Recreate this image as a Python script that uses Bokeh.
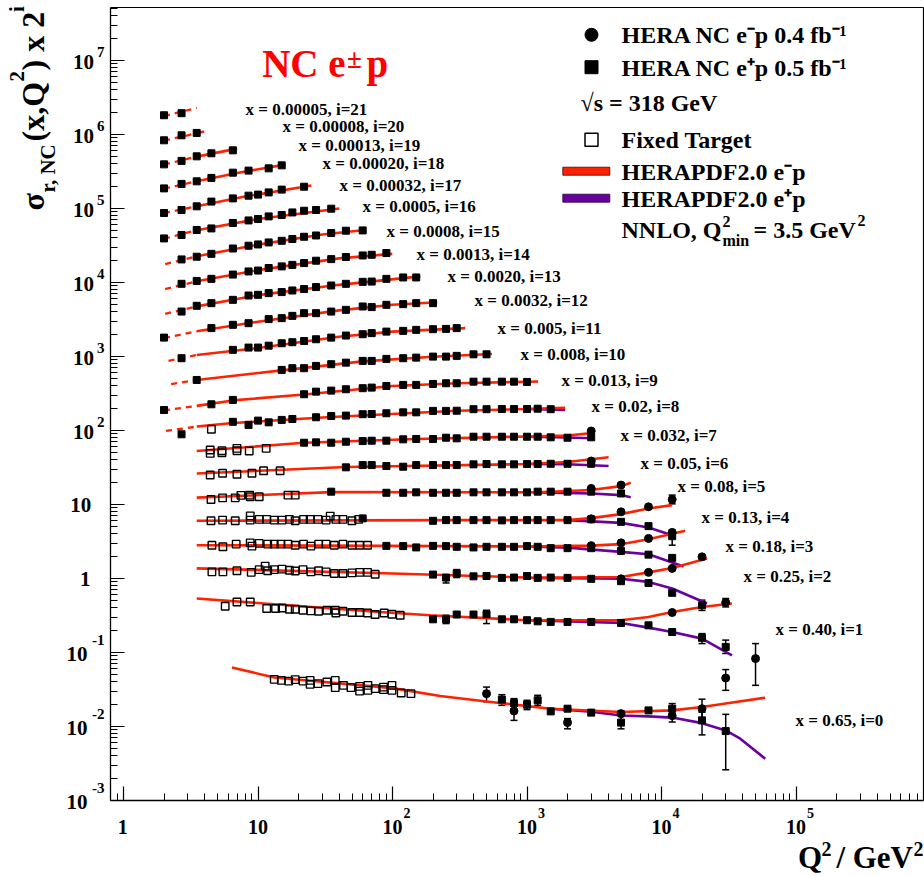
import math
from bokeh.plotting import figure
from bokeh.models import (Range1d, FixedTicker, Label, ColumnDataSource, Whisker,
                          TeeHead, CustomJSTickFormatter, LogAxis)
from bokeh.embed import file_html
from bokeh.resources import INLINE

# ------------------------------------------------------------------ data
BIN_X = ["0.65", "0.40", "0.25", "0.18", "0.13", "0.08", "0.05", "0.032", "0.02", "0.013",
         "0.008", "0.005", "0.0032", "0.0020", "0.0013", "0.0008", "0.0005", "0.00032",
         "0.00020", "0.00013", "0.00008", "0.00005"]
Q2_MIN = 3.5
YTICK_EXP = list(range(-3, 8))
XTICK_EXP = list(range(0, 6))

# HERA NC e+p (filled squares): Q2 and sigma_r x 2^i
SQ_Q2 = {
    21: [2, 2.7],
    20: [2, 2.7, 3.5],
    19: [2, 2.7, 3.5, 4.5, 6.5],
    18: [2, 2.7, 3.5, 4.5, 6.5, 8.5, 12, 15],
    17: [2, 2.7, 3.5, 4.5, 6.5, 8.5, 10, 12, 15, 22],
    16: [2, 2.7, 3.5, 4.5, 6.5, 8.5, 10, 12, 15, 18, 22, 27, 35],
    15: [2.7, 3.5, 4.5, 6.5, 8.5, 10, 12, 15, 18, 22, 27, 35, 45, 60],
    14: [2.7, 3.5, 4.5, 6.5, 8.5, 10, 12, 15, 18, 22, 27, 35, 45, 60, 70, 90],
    13: [2.7, 3.5, 4.5, 6.5, 8.5, 10, 12, 15, 18, 22, 27, 35, 45, 60, 70, 90, 120, 150],
    12: [2, 4.5, 6.5, 8.5, 12, 15, 18, 22, 27, 35, 45, 60, 70, 90, 120, 150, 200],
    11: [2.7, 6.5, 8.5, 10, 12, 15, 18, 22, 27, 35, 45, 60, 70, 90, 120, 150, 200, 250, 300],
    10: [3.5, 15, 18, 22, 27, 35, 45, 60, 70, 90, 120, 150, 200, 250, 300, 400, 500],
    9: [2, 4.5, 6.5, 22, 27, 35, 45, 60, 70, 90, 120, 150, 200, 250, 300, 400, 500, 650, 800, 1000],
    8: [2.7, 6.5, 8.5, 10, 12, 15, 18, 27, 35, 45, 60, 70, 90, 120, 150, 200, 250, 300, 400, 500,
        650, 800, 1000, 1200, 1500],
    7: [22, 27, 35, 45, 60, 70, 90, 120, 150, 200, 250, 300, 400, 500, 650, 800, 1000, 1200, 1500,
        2000, 3000],
    6: [45, 60, 70, 90, 120, 150, 200, 250, 300, 400, 500, 650, 800, 1000, 1200, 1500, 2000, 3000],
    5: [35, 90, 120, 150, 200, 250, 300, 400, 500, 650, 800, 1000, 1200, 1500, 2000, 3000, 5000],
    4: [60, 200, 250, 300, 400, 500, 650, 800, 1000, 1200, 1500, 2000, 3000, 5000, 8000, 12000],
    3: [90, 120, 150, 200, 250, 300, 400, 500, 650, 800, 1000, 1200, 1500, 2000, 3000, 5000, 8000,
        12000],
    2: [200, 250, 300, 400, 500, 650, 800, 1000, 1200, 1500, 2000, 3000, 5000, 8000, 12000, 20000],
    1: [200, 250, 300, 400, 500, 650, 800, 1000, 1200, 1500, 2000, 3000, 5000, 8000, 12000, 20000,
        30000],
    0: [650, 800, 1000, 1200, 1500, 2000, 3000, 5000, 8000, 12000, 20000, 30000],
}
SQ_SIG = {
    21: [1.82e6, 1.94e6],
    20: [8.35e5, 9.75e5, 1.05e6],
    19: [3.95e5, 4.40e5, 5.07e5, 5.57e5, 6.11e5],
    18: [1.87e5, 2.15e5, 2.33e5, 2.59e5, 3.05e5, 3.25e5, 3.49e5, 3.83e5],
    17: [8.69e4, 9.55e4, 1.07e5, 1.24e5, 1.37e5, 1.49e5, 1.54e5, 1.65e5, 1.80e5, 1.97e5],
    16: [3.94e4, 4.38e4, 5.12e4, 5.38e4, 6.37e4, 6.90e4, 7.21e4, 7.82e4, 8.17e4, 8.85e4, 9.33e4,
         9.55e4, 9.94e4],
    15: [2.05e4, 2.23e4, 2.44e4, 2.88e4, 3.14e4, 3.27e4, 3.48e4, 3.66e4, 3.87e4, 4.15e4, 4.32e4,
         4.66e4, 5.01e4, 5.06e4],
    14: [9.60e3, 1.05e4, 1.12e4, 1.28e4, 1.41e4, 1.45e4, 1.57e4, 1.65e4, 1.73e4, 1.83e4, 1.97e4,
         2.07e4, 2.21e4, 2.32e4, 2.37e4, 2.50e4],
    13: [4.05e3, 4.84e3, 5.26e3, 5.83e3, 6.67e3, 6.82e3, 7.19e3, 7.42e3, 7.80e3, 8.15e3, 8.67e3,
         9.11e3, 9.60e3, 1.02e4, 1.03e4, 1.12e4, 1.17e4, 1.17e4],
    12: [1.80e3, 2.42e3, 2.68e3, 2.82e3, 3.20e3, 3.30e3, 3.54e3, 3.85e3, 3.85e3, 4.05e3, 4.27e3,
         4.74e3, 4.65e3, 4.99e3, 5.10e3, 5.26e3, 5.26e3],
    11: [948, 1230, 1320, 1320, 1400, 1510, 1560, 1620, 1710, 1800, 1920, 2000, 2070, 2170, 2220,
         2290, 2340, 2360, 2420],
    10: [482, 659, 695, 695, 746, 787, 826, 872, 872, 928, 948, 966, 997, 997, 1020, 1070, 1070],
    9: [189, 226, 259, 309, 335, 346, 361, 373, 380, 400, 413, 413, 426, 435, 435, 457, 457, 457,
        457, 453],
    8: [88.9, 131, 119, 136, 129, 139, 143, 151, 157, 159, 166, 167, 171, 176, 176, 184, 184, 185,
        194, 194, 195, 195, 195, 197, 194],
    7: [68.4, 69.2, 68.4, 70.5, 72.0, 72.8, 72.8, 76.0, 76.7, 76.7, 79.9, 78.4, 82.4, 82.4, 82.4,
        82.4, 82.4, 82.4, 80.9, 79.9, 80.9],
    6: [31.8, 34.1, 34.1, 33.1, 32.4, 34.1, 34.1, 34.1, 34.1, 34.9, 35.2, 34.9, 34.9, 35.2, 35.2,
        35.5, 35.5, 35.5],
    5: [14.9, 14.4, 14.4, 14.6, 14.4, 14.4, 14.4, 14.6, 14.6, 14.6, 14.6, 14.6, 14.9, 14.9, 14.9,
        14.9, 14.1],
    4: [6.49, 6.02, 6.15, 6.15, 6.15, 6.15, 6.10, 6.15, 6.15, 6.15, 6.15, 6.15, 6.29, 5.83, 5.10,
        3.73],
    3: [2.76, 2.74, 2.63, 2.76, 2.74, 2.68, 2.63, 2.68, 2.68, 2.68, 2.74, 2.68, 2.57, 2.57, 2.57,
        2.36, 2.10, 1.90],
    2: [1.13, 1.03, 1.17, 1.07, 1.08, 1.02, 1.03, 1.08, 1.02, 1.03, 1.02, 0.99, 0.92, 0.87, 0.64,
        0.435],
    1: [0.281, 0.281, 0.326, 0.326, 0.329, 0.281, 0.281, 0.273, 0.264, 0.259, 0.259, 0.259, 0.251,
        0.233, 0.189, 0.158, 0.119],
    0: [0.0231, 0.0207, 0.0197, 0.0226, 0.0160, 0.0174, 0.0154, 0.0113, 0.0165, 0.0174, 0.0121,
        0.00867],
}

# HERA NC e-p (filled circles)
CI_Q2 = {
    7: [3000], 6: [3000], 5: [3000, 5000], 4: [3000, 5000, 8000, 12000],
    3: [3000, 5000, 8000, 12000], 2: [5000, 8000, 12000, 20000], 1: [12000, 30000],
    0: [500, 800, 2000, 5000, 12000, 20000, 30000, 50000],
}
CI_SIG = {
    7: [98.5], 6: [38.7], 5: [16.5, 18.3], 4: [6.40, 7.96, 9.31, 11.7],
    3: [2.78, 3.03, 3.48, 4.20], 2: [0.99, 1.21, 1.37, 1.96], 1: [0.347, 0.475],
    0: [0.0278, 0.0162, 0.0113, 0.0149, 0.0140, 0.0174, 0.0452, 0.0827],
}

# Fixed target (open squares)
FT_Q2 = {
    8: [4.5],
    7: [4.41, 4.41, 5.39, 5.39, 6.97, 6.97, 8.60, 11.5],
    6: [4.41, 5.45, 6.97, 9.01, 11.0, 14.6],
    5: [4.47, 5.45, 6.77, 7.46, 8.65, 8.75, 10.2, 16.7, 18.9],
    4: [4.47, 5.45, 6.77, 8.75, 8.75, 10.2, 11.6, 13.2, 15.1, 17.1, 18.9, 21.8, 24.4, 27.9, 32.1,
        34.4, 37.9, 42.8, 49.9, 55.9],
    3: [4.54, 5.48, 6.88, 8.75, 9.01, 10.2, 11.8, 13.2, 14.8, 16.7, 18.9, 21.8, 24.7, 28.2, 32.1,
        36.9, 42.8, 49.9, 56.9, 65.2],
    2: [4.54, 5.48, 6.97, 8.90, 10.2, 11.3, 11.8, 13.2, 15.1, 17.1, 18.9, 21.6, 24.7, 28.2, 32.1,
        36.9, 42.8, 49.9, 56.9, 65.2, 74.3],
    1: [5.70, 6.97, 8.75, 11.6, 13.5, 15.1, 17.1, 18.9, 21.6, 24.7, 28.2, 32.5, 37.5, 37.9, 42.8,
        49.9, 56.9, 65.2, 74.3, 86.7, 99.0, 114],
    0: [13.2, 14.9, 16.9, 18.9, 21.6, 24.4, 24.4, 27.9, 32.5, 37.5, 37.5, 43.2, 49.1, 56.9, 56.9,
        65.6, 65.6, 74.3, 85.7, 85.7, 99.0, 99.0, 116, 137],
}
FT_SIG = {
    8: [104],
    7: [49.1, 54.5, 53.3, 50.1, 57.4, 53.3, 52.8, 57.4],
    6: [25.0, 26.4, 25.6, 26.4, 28.6, 28.6],
    5: [11.7, 12.3, 12.3, 13.3, 13.4, 12.7, 12.7, 13.4, 13.4],
    4: [6.02, 6.15, 6.02, 7.03, 6.15, 6.29, 6.29, 6.15, 6.15, 6.29, 6.02, 6.29, 6.29, 6.29, 6.15,
        6.97, 6.29, 6.29, 6.02, 6.29],
    3: [2.82, 2.68, 2.91, 3.03, 2.74, 2.98, 2.91, 2.91, 2.91, 2.91, 2.82, 2.91, 2.74, 2.91, 2.91,
        2.82, 2.91, 2.82, 2.82, 2.82],
    2: [1.23, 1.23, 1.27, 1.21, 1.32, 1.47, 1.27, 1.32, 1.34, 1.29, 1.26, 1.32, 1.23, 1.27, 1.23,
        1.17, 1.17, 1.19, 1.21, 1.21, 1.14],
    1: [0.422, 0.482, 0.482, 0.393, 0.393, 0.400, 0.384, 0.384, 0.372, 0.365, 0.361, 0.372, 0.372,
        0.342, 0.361, 0.347, 0.347, 0.342, 0.326, 0.342, 0.329, 0.319],
    0: [0.0434, 0.0420, 0.0411, 0.0430, 0.0411, 0.0420, 0.0371, 0.0380, 0.0399, 0.0420, 0.0335,
        0.0360, 0.0335, 0.0349, 0.0301, 0.0360, 0.0308, 0.0325, 0.0315, 0.0341, 0.0360, 0.0308,
        0.0283, 0.0278],
}

# HERAPDF2.0 NNLO e-p prediction (red), knots
RED_Q2 = {
    21: [2, 3.5], 20: [2, 3.5, 3.98], 19: [2, 3.5, 7.0], 18: [2, 3.5, 7, 15.9],
    17: [2, 3.5, 8, 24.9], 16: [2, 3.5, 10, 40.2], 15: [2.04, 3.5, 10, 30, 62.7],
    14: [2.04, 3.5, 10, 40, 99.5], 13: [2.04, 3.5, 10, 40, 161],
    12: [2, 3.5, 10, 40, 100, 215], 11: [2.16, 3.5, 10, 40, 100, 347],
    10: [2.26, 3.5, 15, 60, 200, 548], 9: [2, 3.5, 6.5, 22, 100, 300, 1210],
    8: [2.07, 3.5, 6.5, 30, 300, 1000, 1920], 7: [3.5, 22, 150, 1000, 2000, 3040],
    6: [3.5, 45, 1000, 2000, 4040], 5: [3.5, 35, 1200, 3000, 5000, 5900],
    4: [3.5, 300, 2000, 3000, 5000, 8000, 12000], 3: [3.5, 1000, 3000, 5000, 8000, 15000],
    2: [3.5, 100, 1200, 5000, 8000, 12000, 21800],
    1: [3.5, 80, 190, 1000, 5000, 8000, 12000, 20000, 33400],
    0: [6.4, 13.2, 100, 226, 500, 1500, 5000, 12000, 20000, 30000, 59000],
}
RED_SIG = {
    21: [1.77e6, 2.29e6], 20: [8.27e5, 1.04e6, 1.10e6], 19: [3.92e5, 5.02e5, 6.44e5],
    18: [1.85e5, 2.34e5, 3.02e5, 3.92e5], 17: [8.63e4, 1.07e5, 1.45e5, 2.04e5],
    16: [3.90e4, 5.08e4, 7.2e4, 1.00e5], 15: [1.77e4, 2.26e4, 3.25e4, 4.45e4, 5.12e4],
    14: [8.14e3, 1.04e4, 1.47e4, 2.12e4, 2.44e4], 13: [3.77e3, 4.76e3, 6.75e3, 9.3e3, 1.21e4],
    12: [1.78e3, 2.19e3, 2.95e3, 4.2e3, 5.0e3, 5.40e3], 11: [872, 1050, 1300, 1850, 2170, 2420],
    10: [422, 482, 650, 860, 990, 1080], 9: [187, 215, 255, 307, 400, 435, 460],
    8: [98.5, 113, 126, 150, 185, 195, 202], 7: [52.8, 68.4, 76.7, 83.0, 85.2, 92.5],
    6: [26.2, 32.1, 35.2, 37.5, 43.4], 5: [12.4, 14.7, 14.6, 15.7, 17.7, 19.7],
    4: [6.02, 6.15, 6.15, 6.55, 7.41, 8.85, 9.81], 3: [2.82, 2.71, 2.78, 2.91, 3.40, 4.41],
    2: [1.37, 1.17, 1.02, 1.05, 1.21, 1.39, 1.87],
    1: [0.536, 0.353, 0.319, 0.273, 0.273, 0.302, 0.353, 0.413, 0.459],
    0: [0.0627, 0.0459, 0.0330, 0.0258, 0.0218, 0.0174, 0.0157, 0.0165, 0.0183, 0.0204, 0.0245],
}

# HERAPDF2.0 NNLO e+p prediction (purple), where it separates from e-p
PUR_Q2 = {
    8: [1000, 1920], 7: [1000, 2000, 3040], 6: [1000, 2000, 4040], 5: [1200, 3000, 5000, 5900],
    4: [2000, 5000, 8000, 12000], 3: [1000, 2000, 5000, 8000, 14600],
    2: [1200, 5000, 8000, 12000, 21800], 1: [1000, 5000, 8000, 12000, 20000, 33400],
    0: [1500, 3000, 5000, 8000, 12000, 20000, 30000, 38500, 59000],
}
PUR_SIG = {
    8: [195, 189], 7: [82.4, 80.6, 78.4], 6: [35.2, 35.0, 33.1], 5: [14.6, 14.1, 13.4, 12.5],
    4: [6.15, 5.65, 4.90, 3.85], 3: [2.71, 2.61, 2.29, 2.13, 1.45],
    2: [1.02, 0.99, 0.90, 0.732, 0.459], 1: [0.273, 0.251, 0.217, 0.189, 0.154, 0.0917],
    0: [0.0174, 0.0158, 0.0141, 0.0137, 0.0132, 0.0111, 0.00885, 0.00684, 0.00367],
}

# visible error bars
ERR_Q2 = [12000, 12000, 250, 300, 20000, 250, 500, 20000, 30000, 30000,
          500, 650, 800, 1000, 1200, 2000, 5000, 12000, 20000, 20000, 30000, 30000, 50000]
ERR_LO = [10.2, 2.82, 0.87, 1.03, 0.37, 0.246, 0.246, 0.132, 0.097, 0.413,
          0.0216, 0.0193, 0.0121, 0.0169, 0.0193, 0.0093, 0.0093, 0.0115, 0.0128, 0.0077, 0.0308,
          0.0026, 0.0360]
ERR_HI = [13.4, 4.50, 1.10, 1.32, 0.51, 0.319, 0.372, 0.180, 0.147, 0.536,
          0.0341, 0.0269, 0.0238, 0.0226, 0.0264, 0.0128, 0.0164, 0.0204, 0.0234, 0.0156, 0.0588,
          0.0146, 0.132]

# ------------------------------------------------------------------ layout
W, H = 924, 876
DEC_X, DEC_Y = 134.5, 74.0          # pixels per decade
FL, FR, FTOP, FB = 110, 923, 7, 800  # the framed plot box, in pixels
X0 = 0.8
X1 = X0 * 10 ** ((FR - FL) / DEC_X)
Y0 = 1e-3
Y1 = Y0 * 10 ** ((FB - FTOP) / DEC_Y)
LX0, LY0 = math.log10(X0), math.log10(Y0)
SERIF = "Liberation Serif"
RED = "#ff2200"
PURPLE = "#6a00a0"
MID = 0.34   # distance from text baseline to its vertical middle, in em


def fx(px):
    return 10 ** (LX0 + (px - FL) / DEC_X)


def fy(py):
    return 10 ** (LY0 + (FB - py) / DEC_Y)


def gx(v):
    return FL + (math.log10(v) - LX0) * DEC_X


def gy(v):
    return FB - (math.log10(v) - LY0) * DEC_Y


# the frame spans the whole canvas; the axes are pinned to the plot box
p = figure(width=W, height=H, x_axis_type="log", y_axis_type="log",
           x_range=Range1d(fx(0), fx(W)), y_range=Range1d(fy(H), fy(0)),
           output_backend="svg", toolbar_location=None, min_border=0)
p.min_border_left = p.min_border_right = p.min_border_top = p.min_border_bottom = 0
if p.title is not None:
    p.title.visible = False
p.background_fill_color = "white"
p.border_fill_color = "white"
p.outline_line_color = None
p.xgrid.visible = False
p.ygrid.visible = False

empty = CustomJSTickFormatter(code="return ''")
major_y = [10.0 ** e for e in YTICK_EXP]
minor_y = [m * 10.0 ** e for e in range(-3, 8) for m in range(2, 10) if m * 10.0 ** e < Y1]
major_x = [10.0 ** e for e in XTICK_EXP]
minor_x = [m * 10.0 ** e for e in range(-1, 6) for m in range(2, 10) if X0 < m * 10.0 ** e < X1]
p.yaxis.ticker = FixedTicker(ticks=major_y, minor_ticks=minor_y)
p.xaxis.ticker = FixedTicker(ticks=major_x, minor_ticks=minor_x)
p.xaxis.fixed_location = Y0
p.xaxis.bounds = (X0, X1)
p.yaxis.fixed_location = X0
p.yaxis.bounds = (Y0, Y1)
for ax in (p.xaxis[0], p.yaxis[0]):
    ax.major_tick_in = 14
    ax.major_tick_out = 0
    ax.minor_tick_in = 7
    ax.minor_tick_out = 0
    ax.axis_line_color = "black"
    ax.axis_line_width = 1.3
    ax.major_tick_line_color = "black"
    ax.major_tick_line_width = 1.2
    ax.minor_tick_line_color = "black"
    ax.minor_tick_line_width = 1
    ax.formatter = empty
    ax.major_label_text_font_size = "0px"
    ax.major_label_standoff = 0


def frame_axis(loc, bounds):
    return LogAxis(fixed_location=loc, bounds=bounds, ticker=FixedTicker(ticks=[], minor_ticks=[]),
                   formatter=CustomJSTickFormatter(code="return ''"),
                   major_tick_in=0, major_tick_out=0, minor_tick_in=0, minor_tick_out=0,
                   major_label_text_font_size="0px", major_label_standoff=0,
                   axis_line_color="black", axis_line_width=1.2)


p.add_layout(frame_axis(Y1, (X0, X1)), "above")
p.add_layout(frame_axis(X1, (Y0, Y1)), "right")


def txt(px, py, s, size, color="black", align="left", base=True, angle=0.0):
    """Place a text; (px, py) is on the baseline when base=True, else the text middle."""
    if base:
        if angle:
            px -= MID * size
        else:
            py -= MID * size
    p.add_layout(Label(x=fx(px), y=fy(py), text=s, text_font=SERIF, text_font_style="bold",
                       text_font_size=f"{size}px", text_color=color, text_align=align,
                       text_baseline="middle", angle=angle))


# ------------------------------------------------------------------ curves
for i in sorted(PUR_Q2):
    p.line(PUR_Q2[i], PUR_SIG[i], line_color=PURPLE, line_width=2.6)
for i in range(22):
    q, s = RED_Q2[i], RED_SIG[i]
    dq = [a for a in q if a <= Q2_MIN]
    ds = s[:len(dq)]
    sq = [a for a in q if a >= Q2_MIN]
    ss = s[len(q) - len(sq):]
    if len(dq) > 1:
        p.line(dq, ds, line_color=RED, line_width=2.3, line_dash="6 5")
    if len(sq) > 1:
        p.line(sq, ss, line_color=RED, line_width=2.6)

# ------------------------------------------------------------------ data points
ftq = [v for i in sorted(FT_Q2) for v in FT_Q2[i]]
fts = [v for i in sorted(FT_SIG) for v in FT_SIG[i]]
p.scatter(ftq, fts, marker="square", size=7.5, fill_alpha=0, line_color="black", line_width=1.4)

ciq = [v for i in sorted(CI_Q2) for v in CI_Q2[i]]
cis = [v for i in sorted(CI_SIG) for v in CI_SIG[i]]
p.scatter(ciq, cis, marker="circle", size=8, fill_color="black", line_color="black")

sqq = [v for i in sorted(SQ_Q2) for v in SQ_Q2[i]]
sqs = [v for i in sorted(SQ_SIG) for v in SQ_SIG[i]]
p.scatter(sqq, sqs, marker="square", size=7, fill_color="black", line_color="black")

err_src = ColumnDataSource(dict(q=ERR_Q2, lo=ERR_LO, hi=ERR_HI))
p.add_layout(Whisker(source=err_src, base="q", lower="lo", upper="hi", dimension="height",
                     line_color="black", line_width=1.5,
                     upper_head=TeeHead(size=7, line_color="black", line_width=1.5),
                     lower_head=TeeHead(size=7, line_color="black", line_width=1.5)))

# ------------------------------------------------------------------ bin labels
LABEL_POS = {21: (245, 109), 20: (282, 126), 19: (298, 145), 18: (322, 163), 17: (339, 185),
             16: (362, 206), 15: (386, 231), 14: (416, 254), 13: (447, 276), 12: (474, 300),
             11: (497, 328), 10: (520, 354), 9: (561, 380), 8: (591, 406), 7: (620, 435),
             6: (640, 463), 5: (677, 486), 4: (701, 517), 3: (725, 546), 2: (743, 576),
             1: (775, 629), 0: (795, 720)}
for i in range(22):
    lx, ly = LABEL_POS[i]
    txt(lx, ly, f"x = {BIN_X[i]}, i={i}", 17, base=False)

# ------------------------------------------------------------------ title
txt(261.7, 76.7, "NC e", 39, color="#ff0000")
txt(346.5, 58.5, "\u00b1", 27, color="#ff0000", base=False)
txt(366, 76.7, "p", 39, color="#ff0000")

# ------------------------------------------------------------------ legend
p.scatter([fx(591)], [fy(34.3)], marker="circle", size=13, fill_color="black", line_color="black")
p.scatter([fx(591)], [fy(66.7)], marker="square", size=13, fill_color="black", line_color="black")
p.scatter([fx(591)], [fy(139.3)], marker="square", size=13, fill_alpha=0, line_color="black",
          line_width=1.5)
p.quad(left=[fx(562.3)], right=[fx(609.3)], top=[fy(166.7)], bottom=[fy(174.7)],
       fill_color=RED, line_color="#400000", line_width=0.8)
p.quad(left=[fx(562.3)], right=[fx(609.3)], top=[fy(193.7)], bottom=[fy(201.7)],
       fill_color=PURPLE, line_color="#200030", line_width=0.8)
txt(621, 42.7, "HERA NC e\u207bp 0.4 fb\u207b\u00b9", 24)
txt(621, 76, "HERA NC e\u207ap 0.5 fb\u207b\u00b9", 24)
txt(580, 110.7, "\u221as = 318 GeV", 24)
txt(621, 147.7, "Fixed Target", 24)
txt(621, 180, "HERAPDF2.0 e\u207bp", 24)
txt(621, 206.7, "HERAPDF2.0 e\u207ap", 24)
txt(621, 237.3, "NNLO, Q", 24)
txt(722, 226.7, "2", 16)
txt(722, 245, "min", 16)
txt(753, 237.3, "= 3.5 GeV", 24)
txt(857, 225, "2", 16)

# ------------------------------------------------------------------ tick labels
for e in YTICK_EXP:
    ty = gy(10.0 ** e)
    if e == 0:
        txt(90, ty, "1", 21, align="right", base=False)
    elif e == 1:
        txt(90.7, ty, "10", 21, align="right", base=False)
    elif e > 1:
        txt(93.5, ty + 1, "10", 21, align="right", base=False)
        txt(96.5, ty - 9, str(e), 15, base=False)
    else:
        txt(87, ty + 1.5, "10", 21, align="right", base=False)
        txt(91.5, ty - 13, str(e), 15, base=False)

for e in XTICK_EXP:
    tx = gx(10.0 ** e)
    if e == 0:
        txt(tx - 0.8, 826.5, "1", 20, align="center", base=False)
    else:
        txt(tx, 826.5, "10", 20, align="center", base=False)
        if e > 1:
            txt(tx + 11, 812, str(e), 14, base=False)

# ------------------------------------------------------------------ axis titles
ROT = math.pi / 2
txt(43.5, 210, "\u03c3", 32, angle=ROT)
txt(55, 192, "r, NC", 21, angle=ROT)
txt(43.5, 141, "(x,Q", 32, angle=ROT)
txt(23.5, 81, "2", 21, angle=ROT)
txt(43.5, 70, ") x 2", 32, angle=ROT)
txt(23.5, 11.5, "i", 21, angle=ROT)

txt(821.7, 867.5, "Q", 31, align="right")
txt(831, 855, "2", 20, align="right")
txt(912.5, 867.5, "/ GeV", 31, align="right")
txt(923, 855, "2", 20, align="right")

open("out.html", "w").write(file_html(p, INLINE))
